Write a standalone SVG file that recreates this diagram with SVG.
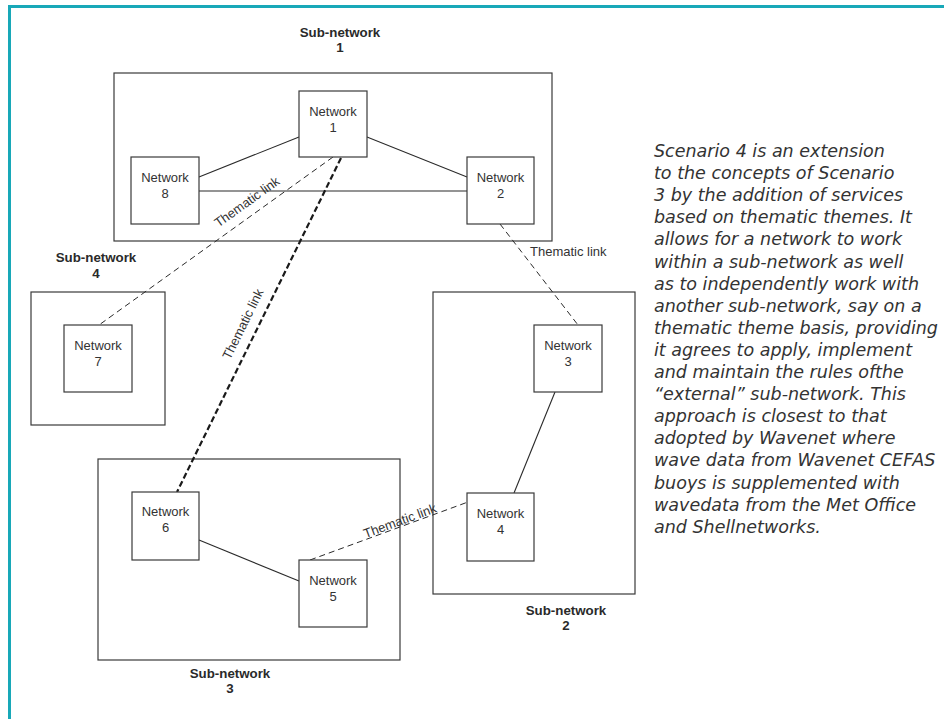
<svg xmlns="http://www.w3.org/2000/svg" width="944" height="719" viewBox="0 0 944 719">
  <style>
    .frame { fill: none; stroke: #18a8b8; stroke-width: 3; }
    .box { fill: #ffffff; stroke: #3a3a3a; stroke-width: 1.2; }
    .sub { fill: none; stroke: #3a3a3a; stroke-width: 1.2; }
    .link { fill: none; stroke: #2a2a2a; stroke-width: 1.1; }
    .thematic { fill: none; stroke: #2a2a2a; stroke-width: 1; stroke-dasharray: 6 4; }
    .thematic-bold { fill: none; stroke: #1a1a1a; stroke-width: 2.2; stroke-dasharray: 6 3; }
    .lbl { font-family: "Liberation Sans", Arial, sans-serif; font-size: 13px; fill: #333333; text-anchor: middle; }
    .sublbl { font-family: "Liberation Sans", Arial, sans-serif; font-size: 13.3px; font-weight: bold; fill: #2a2a2a; text-anchor: middle; }
    .tl { font-family: "Liberation Sans", Arial, sans-serif; font-size: 13px; fill: #333333; }
    .para { font-family: "DejaVu Sans", "Noto Sans", sans-serif; font-style: italic; font-size: 17.5px; fill: #333333; }
  </style>

  <!-- page frame (top and left rules) -->
  <path class="frame" d="M9.5 719 V6.5 H944"/>

  <!-- sub-network containers -->
  <g id="subnetwork-1">
    <rect class="sub" x="114" y="73" width="438" height="168"/>
    <text class="sublbl" x="340" y="37">Sub-network</text>
    <text class="sublbl" x="340" y="52">1</text>
  </g>
  <g id="subnetwork-4">
    <rect class="sub" x="31" y="292" width="134" height="133"/>
    <text class="sublbl" x="96" y="262">Sub-network</text>
    <text class="sublbl" x="96" y="277.5">4</text>
  </g>
  <g id="subnetwork-2">
    <rect class="sub" x="433" y="292" width="202" height="302"/>
    <text class="sublbl" x="566" y="615">Sub-network</text>
    <text class="sublbl" x="566" y="630">2</text>
  </g>
  <g id="subnetwork-3">
    <rect class="sub" x="98" y="459" width="302" height="201"/>
    <text class="sublbl" x="230" y="678">Sub-network</text>
    <text class="sublbl" x="230" y="693">3</text>
  </g>

  <!-- connectors -->
  <g id="connectors">
    <line class="link" x1="199" y1="177" x2="299" y2="137"/>
    <line class="link" x1="367" y1="137" x2="467" y2="177"/>
    <line class="link" x1="199" y1="191" x2="467" y2="191"/>
    <line class="link" x1="555" y1="392" x2="514" y2="493"/>
    <line class="link" x1="199" y1="540" x2="299" y2="581"/>
    <line class="thematic" x1="333" y1="157" x2="99" y2="325"/>
    <line class="thematic" x1="500" y1="224" x2="578" y2="325"/>
    <line class="thematic" x1="310" y1="560" x2="468" y2="502"/>
    <line class="thematic-bold" x1="341" y1="158" x2="177" y2="492"/>
    <text class="tl" text-anchor="middle" transform="translate(249.5 205.5) rotate(-35.7)">Thematic link</text>
    <text class="tl" text-anchor="middle" transform="translate(247 326) rotate(-63.8)">Thematic link</text>
    <text class="tl" text-anchor="middle" transform="translate(401.5 525) rotate(-20.2)">Thematic link</text>
    <text class="tl" x="530" y="256">Thematic link</text>
  </g>

  <!-- networks -->
  <g id="network-1">
    <rect class="box" x="299" y="91" width="68" height="66"/>
    <text class="lbl" x="333" y="116">Network</text>
    <text class="lbl" x="333" y="132">1</text>
  </g>
  <g id="network-8">
    <rect class="box" x="131" y="157" width="68" height="67"/>
    <text class="lbl" x="165" y="182">Network</text>
    <text class="lbl" x="165" y="198">8</text>
  </g>
  <g id="network-2">
    <rect class="box" x="467" y="157" width="67" height="67"/>
    <text class="lbl" x="500.5" y="182">Network</text>
    <text class="lbl" x="500.5" y="198">2</text>
  </g>
  <g id="network-7">
    <rect class="box" x="64" y="325" width="68" height="67"/>
    <text class="lbl" x="98" y="350">Network</text>
    <text class="lbl" x="98" y="366">7</text>
  </g>
  <g id="network-3">
    <rect class="box" x="534" y="325" width="68" height="67"/>
    <text class="lbl" x="568" y="350">Network</text>
    <text class="lbl" x="568" y="366">3</text>
  </g>
  <g id="network-4">
    <rect class="box" x="467" y="493" width="67" height="68"/>
    <text class="lbl" x="500.5" y="518">Network</text>
    <text class="lbl" x="500.5" y="534">4</text>
  </g>
  <g id="network-6">
    <rect class="box" x="132" y="492" width="67" height="68"/>
    <text class="lbl" x="165.5" y="516">Network</text>
    <text class="lbl" x="165.5" y="532">6</text>
  </g>
  <g id="network-5">
    <rect class="box" x="299" y="560" width="68" height="67"/>
    <text class="lbl" x="333" y="585">Network</text>
    <text class="lbl" x="333" y="601">5</text>
  </g>

  <!-- scenario description -->
  <text class="para" x="654" y="157">
    <tspan x="654" y="157">Scenario 4 is an extension</tspan>
    <tspan x="654" y="179.1">to the concepts of Scenario</tspan>
    <tspan x="654" y="201.2">3 by the addition of services</tspan>
    <tspan x="654" y="223.3">based on thematic themes. It</tspan>
    <tspan x="654" y="245.4">allows for a network to work</tspan>
    <tspan x="654" y="267.5">within a sub-network as well</tspan>
    <tspan x="654" y="289.6">as to independently work with</tspan>
    <tspan x="654" y="311.7">another sub-network, say on a</tspan>
    <tspan x="654" y="333.8">thematic theme basis, providing</tspan>
    <tspan x="654" y="355.9">it agrees to apply, implement</tspan>
    <tspan x="654" y="378">and maintain the rules ofthe</tspan>
    <tspan x="654" y="400.1">“external” sub-network. This</tspan>
    <tspan x="654" y="422.2">approach is closest to that</tspan>
    <tspan x="654" y="444.3">adopted by Wavenet where</tspan>
    <tspan x="654" y="466.4">wave data from Wavenet CEFAS</tspan>
    <tspan x="654" y="488.5">buoys is supplemented with</tspan>
    <tspan x="654" y="510.6">wavedata from the Met Office</tspan>
    <tspan x="654" y="532.7">and Shellnetworks.</tspan>
  </text>
</svg>
